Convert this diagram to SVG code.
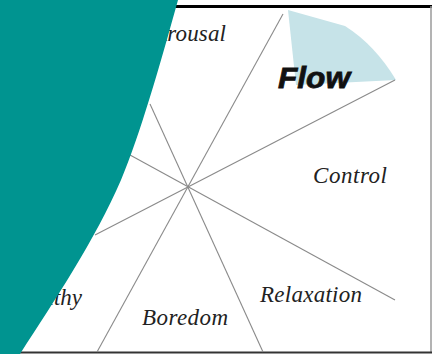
<svg xmlns="http://www.w3.org/2000/svg" width="432" height="354" viewBox="0 0 432 354">
<style>
.lbl{font-family:"Liberation Serif","Times New Roman",serif;font-style:italic;font-size:23px;fill:#222}
.axis{stroke:#8a8a8a;stroke-width:1.1;fill:none}
</style>
<rect width="432" height="354" fill="#fff"/>
<g id="frame">
<line x1="150" y1="6.5" x2="432" y2="6.5" stroke="#000" stroke-width="3"/>
<line x1="431" y1="6" x2="431" y2="352" stroke="#9a9a9a" stroke-width="1.5"/>
<line x1="0" y1="352.5" x2="432" y2="352.5" stroke="#333" stroke-width="2"/>
</g>
<g id="flow-region">
<path d="M288,10 L345,26 Q375,45 396,80 L296,85 Z" fill="#c6e3e8"/>
</g>
<g id="connectors">
<line class="axis" x1="283" y1="14" x2="97" y2="352"/>
<line class="axis" x1="395" y1="80" x2="95" y2="235"/>
<line class="axis" x1="395" y1="300" x2="130" y2="155"/>
<line class="axis" x1="263" y1="352" x2="150" y2="104"/>
</g>
<g id="labels">
<text class="lbl" x="153" y="41" textLength="73">Arousal</text>
<text x="278" y="88" font-family="Liberation Sans,Arial,sans-serif" font-weight="bold" font-style="italic" font-size="30" stroke="#111" stroke-width="0.8" textLength="72" lengthAdjust="spacingAndGlyphs" fill="#111">Flow</text>
<text class="lbl" x="313" y="183" textLength="74">Control</text>
<text class="lbl" x="260" y="302" textLength="102">Relaxation</text>
<text class="lbl" x="142" y="325" textLength="86">Boredom</text>
<text class="lbl" x="17" y="305" textLength="65">Apathy</text>
</g>
<g id="overlay">
<path d="M0,0 L178,0 C160,65 140,135 121,180 C95,240 55,300 20,354 L0,354 Z" fill="#009490"/>
</g>
</svg>
